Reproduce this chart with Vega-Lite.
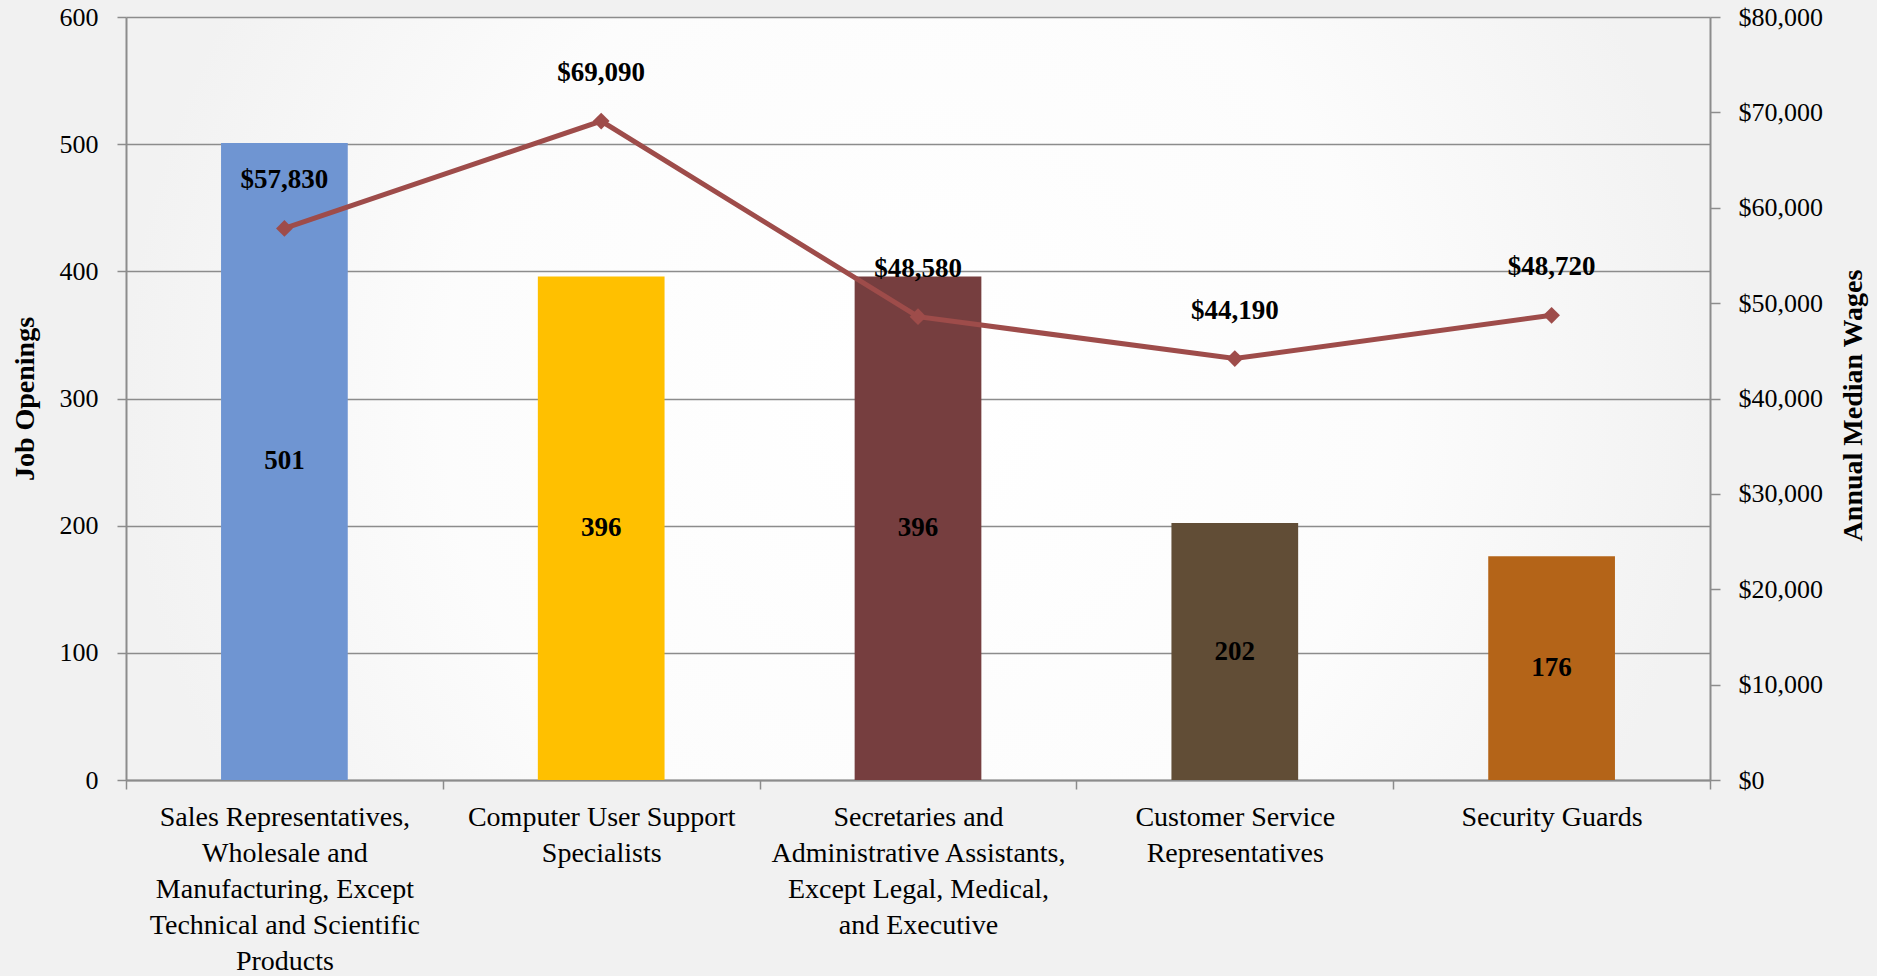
{
  "$schema": "https://vega.github.io/schema/vega-lite/v6.json",
  "width": 1584,
  "height": 763,
  "autosize": {"type": "none"},
  "padding": {"left": 126, "top": 17, "right": 167, "bottom": 196},
  "background": "#f1f1f1",
  "config": {
    "font": "Liberation Serif",
    "view": {
      "stroke": null,
      "fill": {"gradient": "radial", "stops": [{"offset": 0, "color": "#ffffff"}, {"offset": 0.6, "color": "#fcfcfc"}, {"offset": 1, "color": "#f2f2f2"}]}
    },
    "axis": {
      "labelFont": "Liberation Serif",
      "titleFont": "Liberation Serif",
      "labelColor": "#000000",
      "titleColor": "#000000",
      "domainColor": "#8c8c8c",
      "tickColor": "#8c8c8c",
      "gridColor": "#8c8c8c"
    }
  },
  "data": {
    "values": [
      {"job": "Sales Representatives, Wholesale and Manufacturing, Except Technical and Scientific Products", "openings": 501, "wage": 57830},
      {"job": "Computer User Support Specialists", "openings": 396, "wage": 69090},
      {"job": "Secretaries and Administrative Assistants, Except Legal, Medical, and Executive", "openings": 396, "wage": 48580},
      {"job": "Customer Service Representatives", "openings": 202, "wage": 44190},
      {"job": "Security Guards", "openings": 176, "wage": 48720}
    ]
  },
  "encoding": {
    "x": {
      "field": "job",
      "type": "nominal",
      "sort": null,
      "scale": {"paddingInner": 0, "paddingOuter": 0},
      "axis": {
        "title": null,
        "labelAngle": 0,
        "labelFontSize": 28,
        "labelLineHeight": 36,
        "labelPadding": 14,
        "labelLimit": 400,
        "tickBand": "extent",
        "tickSize": 9,
        "tickWidth": 1.5,
        "domainWidth": 2,
        "grid": false,
        "labelExpr": "datum.value == 'Sales Representatives, Wholesale and Manufacturing, Except Technical and Scientific Products' ? ['Sales Representatives,', 'Wholesale and', 'Manufacturing, Except', 'Technical and Scientific', 'Products'] : datum.value == 'Computer User Support Specialists' ? ['Computer User Support', 'Specialists'] : datum.value == 'Secretaries and Administrative Assistants, Except Legal, Medical, and Executive' ? ['Secretaries and', 'Administrative Assistants,', 'Except Legal, Medical,', 'and Executive'] : datum.value == 'Customer Service Representatives' ? ['Customer Service', 'Representatives'] : datum.value"
      }
    }
  },
  "layer": [
    {
      "layer": [
        {
          "mark": {"type": "bar", "width": {"band": 0.4}},
          "encoding": {
            "y": {
              "field": "openings",
              "type": "quantitative",
              "scale": {"domain": [0, 600]},
              "axis": {
                "title": "Job Openings",
                "values": [0, 100, 200, 300, 400, 500, 600],
                "grid": true,
                "gridWidth": 1.5,
                "tickSize": 9,
                "tickWidth": 1.5,
                "domainWidth": 2,
                "labelPadding": 19,
                "labelFontSize": 26,
                "titleFontSize": 28,
                "titleFontWeight": "bold",
                "titlePadding": 20
              }
            },
            "color": {
              "field": "job",
              "type": "nominal",
              "sort": null,
              "scale": {"range": ["#6F95D2", "#FFC000", "#763E3F", "#614D36", "#B46418"]},
              "legend": null
            }
          }
        },
        {
          "transform": [{"calculate": "datum.openings / 2", "as": "mid"}],
          "mark": {"type": "text", "fontWeight": "bold", "fontSize": 27, "color": "#000000", "baseline": "middle"},
          "encoding": {
            "y": {"field": "mid", "type": "quantitative", "title": "Job Openings"},
            "text": {"field": "openings", "type": "quantitative"}
          }
        }
      ]
    },
    {
      "layer": [
        {
          "mark": {"type": "line", "color": "#9E4C4A", "strokeWidth": 5},
          "encoding": {
            "y": {
              "field": "wage",
              "type": "quantitative",
              "scale": {"domain": [0, 80000]},
              "axis": {
                "orient": "right",
                "title": "Annual Median Wages",
                "titleAngle": 270,
                "titleX": 143,
                "titleY": 388,
                "titleAlign": "center",
                "titleBaseline": "middle",
                "values": [0, 10000, 20000, 30000, 40000, 50000, 60000, 70000, 80000],
                "format": "$,.0f",
                "grid": false,
                "tickSize": 10,
                "tickWidth": 1.5,
                "domainWidth": 2,
                "labelPadding": 18,
                "labelFontSize": 26,
                "titleFontSize": 28,
                "titleFontWeight": "bold"
              }
            }
          }
        },
        {
          "mark": {"type": "point", "shape": "diamond", "filled": true, "size": 280, "color": "#9E4C4A", "opacity": 1},
          "encoding": {
            "y": {"field": "wage", "type": "quantitative", "title": "Annual Median Wages"}
          }
        },
        {
          "mark": {"type": "text", "fontWeight": "bold", "fontSize": 27, "color": "#000000", "dy": -48, "baseline": "middle"},
          "encoding": {
            "y": {"field": "wage", "type": "quantitative", "title": "Annual Median Wages"},
            "text": {"field": "wage", "type": "quantitative", "format": "$,.0f"}
          }
        }
      ]
    }
  ],
  "resolve": {"scale": {"y": "independent", "color": "independent"}}
}
